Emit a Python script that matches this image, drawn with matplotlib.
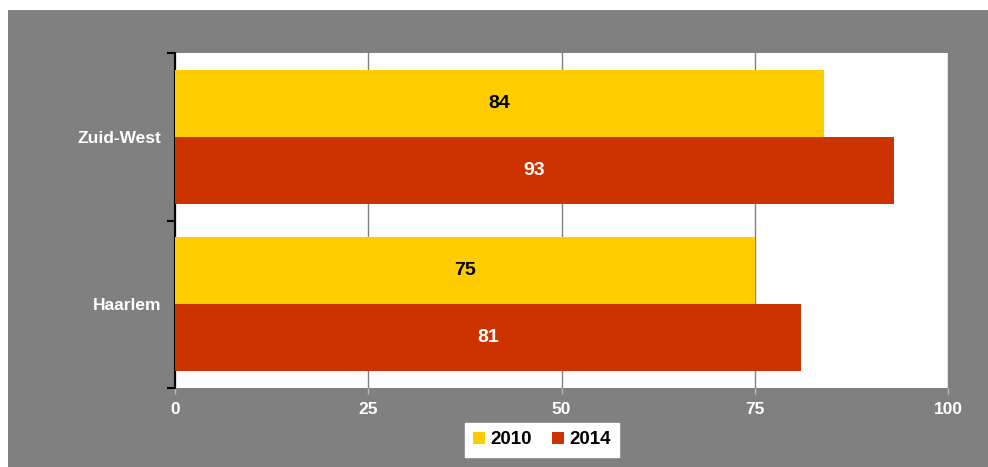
import matplotlib.pyplot as plt
from matplotlib.patches import Rectangle

categories = ['Haarlem', 'Zuid-West']
values_2010 = [75, 84]
values_2014 = [81, 93]
series = ['2010', '2014']
x_ticks = [0, 25, 50, 75, 100]

yellow = '#FFCC00'
red = '#CC3300'
bg = '#808080'

plt.rcParams['font.family'] = ['Liberation Sans', 'DejaVu Sans']
plt.rcParams['font.weight'] = 'bold'

fig = plt.figure(figsize=(9.88, 4.67), dpi=100)
fig.patch.set_facecolor('white')
# gray panel (white strip at top and left)
fig.patches.append(Rectangle((8 / 988, 0), 1 - 8 / 988, 1 - 10 / 467,
                             transform=fig.transFigure, facecolor=bg,
                             edgecolor='none', zorder=-10))

ax = fig.add_axes([175 / 988, 1 - 388 / 467, (948 - 175) / 988, (388 - 53) / 467])
ax.set_facecolor('white')

h = 0.4
centers = [0.5, 1.5]
y2010 = [c + h / 2 for c in centers]
y2014 = [c - h / 2 for c in centers]
b1 = ax.barh(y2010, values_2010, height=h, color=yellow, label=series[0], zorder=3)
b2 = ax.barh(y2014, values_2014, height=h, color=red, label=series[1], zorder=3)

for y, v in zip(y2010, values_2010):
    ax.text(v / 2, y, str(v), ha='center', va='center', color='black',
            fontsize=14, fontweight='bold', zorder=4)
for y, v in zip(y2014, values_2014):
    ax.text(v / 2, y, str(v), ha='center', va='center', color='white',
            fontsize=14, fontweight='bold', zorder=4)

ax.set_xlim(0, 100)
ax.set_ylim(0, 2)
ax.set_xticks(x_ticks)
ax.set_xticklabels([str(t) for t in x_ticks], color='white', fontsize=12.5, fontweight='bold')
ax.xaxis.grid(True, color='#808080', linewidth=1, zorder=1)
ax.tick_params(axis='x', length=4, color='#bbbbbb', width=1, pad=6)

ax.set_yticks([0, 1, 2])
ax.set_yticklabels([])
ax.set_yticks(centers, minor=True)
ax.set_yticklabels(categories, minor=True, color='white', fontsize=12.5, fontweight='bold')
ax.tick_params(axis='y', which='major', length=6, width=1.5, color='black')
ax.tick_params(axis='y', which='minor', length=0, pad=10)

for s in ['top', 'right', 'bottom']:
    ax.spines[s].set_visible(False)
ax.spines['left'].set_linewidth(1.5)
ax.spines['left'].set_color('black')

leg = fig.legend(handles=[b1, b2], loc='center', bbox_to_anchor=(542 / 988, 1 - 440 / 467),
                 ncol=2, frameon=True, fancybox=False, edgecolor='white', framealpha=1,
                 handlelength=0.6, handleheight=0.6, handletextpad=0.3,
                 columnspacing=1.1, borderpad=0.45,
                 prop={'family': 'Liberation Sans', 'weight': 'bold', 'size': 13.5})
leg.get_frame().set_facecolor('white')

fig.savefig('out.png', dpi=100, facecolor=fig.get_facecolor())
